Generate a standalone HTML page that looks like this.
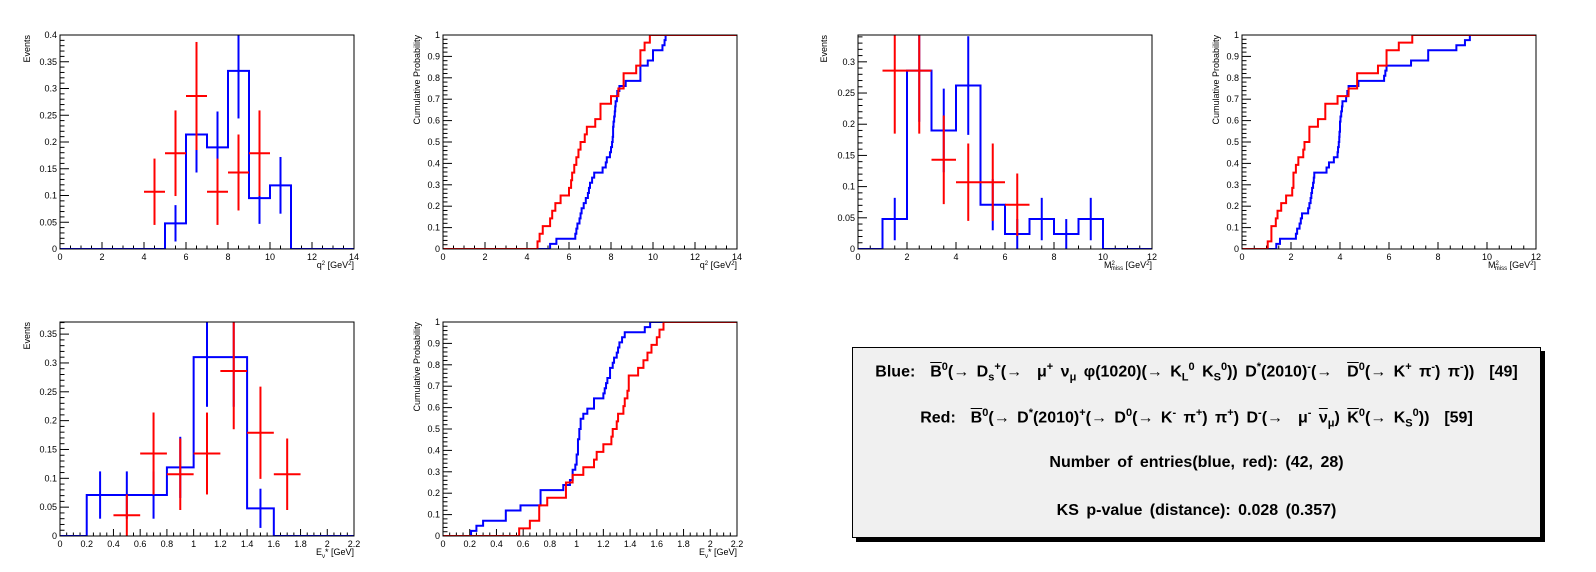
<!DOCTYPE html>
<html><head><meta charset="utf-8">
<style>
html,body{margin:0;padding:0;background:#fff;}
body{width:1596px;height:572px;overflow:hidden;position:relative;font-family:"Liberation Sans",sans-serif;}
#box{position:absolute;left:852px;top:347px;width:687px;height:189px;background:#f0f0f0;border:1px solid #000;box-shadow:4px 4px 0 #000;}
.ln{position:absolute;left:0;width:100%;text-align:center;font-weight:bold;font-size:16px;word-spacing:3px;white-space:nowrap;color:#000;}
.ob{text-decoration:overline;}
sup,sub{font-size:11px;}
</style></head><body>
<svg id="chart" width="1596" height="572" style="position:absolute;left:0;top:0"></svg>
<div id="box">
 <div class="ln" style="top:13px">Blue:&nbsp; <span class="ob">B</span><sup>0</sup>(→ D<sub>s</sub><sup>+</sup>(→ &nbsp;μ<sup>+</sup> ν<sub>μ</sub> φ(1020)(→ K<sub>L</sub><sup>0</sup> K<sub>S</sub><sup>0</sup>)) D<sup>*</sup>(2010)<sup>-</sup>(→ &nbsp;<span class="ob">D</span><sup>0</sup>(→ K<sup>+</sup> π<sup>-</sup>) π<sup>-</sup>)) &nbsp;[49]</div>
 <div class="ln" style="top:59px">Red:&nbsp; <span class="ob">B</span><sup>0</sup>(→ D<sup>*</sup>(2010)<sup>+</sup>(→ D<sup>0</sup>(→ K<sup>-</sup> π<sup>+</sup>) π<sup>+</sup>) D<sup>-</sup>(→ &nbsp;μ<sup>-</sup> <span class="ob">ν</span><sub>μ</sub>) <span class="ob">K</span><sup>0</sup>(→ K<sub>S</sub><sup>0</sup>)) &nbsp;[59]</div>
 <div class="ln" style="top:106px">Number of entries(blue, red): (42, 28)</div>
 <div class="ln" style="top:154px">KS p-value (distance): 0.028 (0.357)</div>
</div>
<script>
const q2Blue=[0,0,0,0,0,0.048,0.214,0.190,0.333,0.095,0.119,0,0,0];
const q2BlueErr=[0,0,0,0,0,0.034,0.071,0.067,0.089,0.048,0.053,0,0,0];
const q2Red=[0,0,0,0,0.107,0.179,0.286,0.107,0.143,0.179,0,0,0,0];
const q2RedErr=[0,0,0,0,0.062,0.080,0.101,0.062,0.071,0.080,0,0,0,0];
const m2Blue=[0,0.048,0.286,0.190,0.262,0.071,0.024,0.048,0.024,0.048,0,0];
const m2BlueErr=[0,0.034,0.082,0.067,0.079,0.041,0.024,0.034,0.024,0.034,0,0];
const m2Red=[0,0.286,0.286,0.143,0.107,0.107,0.071,0,0,0,0,0];
const m2RedErr=[0,0.101,0.101,0.071,0.062,0.062,0.050,0,0,0,0,0];
const eBlue=[0,0.071,0.071,0.071,0.119,0.310,0.310,0.048,0,0,0];
const eBlueErr=[0,0.041,0.041,0.041,0.053,0.086,0.086,0.034,0,0,0];
const eRed=[0,0,0.036,0.143,0.107,0.143,0.286,0.179,0.107,0,0];
const eRedErr=[0,0,0.036,0.071,0.062,0.071,0.101,0.080,0.062,0,0];
const q2BlueSample=[5.1,5.4,6.3,6.35,6.4,6.5,6.55,6.6,6.7,6.8,6.9,6.95,7.0,7.1,7.2,7.6,7.75,7.8,7.95,8.0,8.05,8.08,8.1,8.1,8.12,8.15,8.18,8.2,8.22,8.28,8.3,8.4,8.7,9.4,9.4,9.4,9.75,10.0,10.0,10.45,10.55,10.6];
const q2RedSample=[4.5,4.6,4.75,5.1,5.2,5.35,5.6,6.0,6.1,6.15,6.25,6.35,6.45,6.55,6.75,6.85,7.25,7.5,7.5,8.0,8.35,8.6,8.6,9.2,9.4,9.4,9.6,9.85];
const m2BlueSample=[1.4,1.55,2.2,2.25,2.35,2.4,2.45,2.7,2.75,2.8,2.83,2.86,2.9,2.93,2.95,3.45,3.55,3.75,3.9,3.92,3.95,3.97,3.98,4.0,4.0,4.02,4.05,4.08,4.1,4.25,4.3,4.35,4.75,5.8,5.85,5.9,6.9,7.6,7.6,8.75,9.1,9.3];
const m2RedSample=[1.05,1.2,1.2,1.38,1.45,1.6,1.8,2.05,2.1,2.1,2.2,2.3,2.5,2.55,2.75,2.75,3.1,3.4,3.4,3.9,4.35,4.7,4.7,5.55,5.9,5.9,6.4,6.95];
const eBlueSample=[0.21,0.25,0.3,0.47,0.47,0.58,0.73,0.73,0.73,0.9,0.95,0.97,0.97,0.99,1.0,1.0,1.01,1.01,1.01,1.02,1.02,1.03,1.03,1.05,1.08,1.13,1.13,1.2,1.21,1.22,1.23,1.25,1.25,1.27,1.28,1.3,1.31,1.32,1.34,1.36,1.51,1.55];
const eRedSample=[0.57,0.65,0.72,0.72,0.78,0.92,0.92,0.97,1.05,1.13,1.15,1.2,1.26,1.27,1.3,1.31,1.35,1.36,1.38,1.39,1.39,1.46,1.5,1.53,1.56,1.6,1.62,1.65];

const NS='http://www.w3.org/2000/svg';
const svg=document.getElementById('chart');
function mk(tag,attrs,parent){const e=document.createElementNS(NS,tag);for(const k in attrs)e.setAttribute(k,attrs[k]);(parent||svg).appendChild(e);return e;}
let clipId=0;
function fmt(v){return (+v.toFixed(3)).toString();}

function panel(p){
  const g=mk('g',{});
  
  
  const sx=v=>p.x0+(v-p.xmin)/(p.xmax-p.xmin)*(p.x1-p.x0);
  const sy=v=>p.y1-v/p.ymax*(p.y1-p.y0);
  const cid='c'+(clipId++);
  const cp=mk('clipPath',{id:cid},g);mk('rect',{x:p.x0,y:p.y0,width:p.x1-p.x0,height:p.y1-p.y0},cp);
  const tg=mk('g',{stroke:'#000','stroke-width':1},g);
  const nMx=Math.round((p.xmax-p.xmin)/p.xstep);
  for(let i=0;i<=nMx;i++){
    const v=p.xmin+i*p.xstep,x=sx(v);
    mk('line',{x1:x,y1:p.y1,x2:x,y2:p.y1-7},tg);
    if(i<nMx)for(let j=1;j<4;j++){const xm=sx(v+j*p.xstep/4);mk('line',{x1:xm,y1:p.y1,x2:xm,y2:p.y1-3.5},tg);}
    const t=mk('text',{x:x,y:p.y1+11,'font-size':9,'text-anchor':'middle',fill:'#000'},g);
    
    
    t.textContent=fmt(v);
  }
  const nMy=Math.floor(p.ymax/p.ystep+1e-6);
  for(let i=0;i<=nMy;i++){
    const v=i*p.ystep,y=sy(v);
    mk('line',{x1:p.x0,y1:y,x2:p.x0+9,y2:y},tg);
    for(let j=1;j<5;j++){const vm=v+j*p.ystep/5;if(vm<=p.ymax)mk('line',{x1:p.x0,y1:sy(vm),x2:p.x0+4.5,y2:sy(vm)},tg);}
    const t=mk('text',{x:p.x0-3,y:y+3,'font-size':9,'text-anchor':'end',fill:'#000'},g);
    
    
    t.textContent=fmt(v);
  }
  const yt=mk('text',{x:0,y:0,'font-size':9,'text-anchor':'end',fill:'#000',transform:`translate(${p.x0-p.ytOff},${p.y0}) rotate(-90)`},g);
  
  
  yt.textContent=p.ytitle;
  const xt=mk('text',{x:p.x1,y:p.y1+19,'font-size':9,'text-anchor':'end',fill:'#000'},g);
  
  
  xt.innerHTML=p.xtitle;
  const dg=mk('g',{'clip-path':`url(#${cid})`},g);
  if(p.hist){
    const bw=p.bw,nb=p.blue.length;
    let d=`M${sx(p.xmin)},${sy(0)}`;
    for(let i=0;i<nb;i++){const xa=sx(p.xmin+i*bw),xb=sx(p.xmin+(i+1)*bw),y=sy(p.blue[i]);d+=`L${xa},${y}L${xb},${y}`;}
    d+=`L${sx(p.xmax)},${sy(0)}`;
    const h=mk('path',{d:d,fill:'none',stroke:'#0000ff','stroke-width':2},dg);
    
    
    for(let i=0;i<nb;i++){if(p.blue[i]<=0)continue;const xc=sx(p.xmin+(i+.5)*bw);
      const e=mk('line',{x1:xc,x2:xc,y1:sy(p.blue[i]-p.blueErr[i]),y2:sy(p.blue[i]+p.blueErr[i]),stroke:'#0000ff','stroke-width':2},dg);
      
      }
    for(let i=0;i<p.red.length;i++){if(p.red[i]<=0)continue;const xc=sx(p.xmin+(i+.5)*bw),y=sy(p.red[i]);
      const e=mk('line',{x1:xc,x2:xc,y1:sy(p.red[i]-p.redErr[i]),y2:sy(p.red[i]+p.redErr[i]),stroke:'#ff0000','stroke-width':2},dg);
      
      
      const hz=mk('line',{x1:sx(p.xmin+i*bw),x2:sx(p.xmin+(i+1)*bw),y1:y,y2:y,stroke:'#ff0000','stroke-width':2},dg);
      
      }
  } else {
    [['blue',p.blueS,'#0000ff'],['red',p.redS,'#ff0000']].forEach(([nm,s,c])=>{
      const a=s.slice().sort((u,v)=>u-v),n=a.length;
      let d=`M${sx(p.xmin)},${sy(0)}`;
      a.forEach((v,i)=>{d+=`L${sx(v)},${sy(i/n)}L${sx(v)},${sy((i+1)/n)}`;});
      d+=`L${sx(p.xmax)},${sy(1)}`;
      const l=mk('path',{d:d,fill:'none',stroke:c,'stroke-width':2},dg);
      
      
    });
  }
  const fr=mk('rect',{x:p.x0,y:p.y0,width:p.x1-p.x0,height:p.y1-p.y0,fill:'none',stroke:'#000','stroke-width':1},g);
  
  
}
const q2t='q<tspan dy="-3" font-size="6">2</tspan><tspan dy="3"> [GeV</tspan><tspan dy="-3" font-size="6">2</tspan><tspan dy="3">]</tspan>';
const m2t='M<tspan dy="-3" font-size="6">2</tspan><tspan dy="5" dx="-4" font-size="6">miss</tspan><tspan dy="-2"> [GeV</tspan><tspan dy="-3" font-size="6">2</tspan><tspan dy="3">]</tspan>';
const et='E<tspan dy="3" font-size="6">ν</tspan><tspan dy="-3">* [GeV]</tspan>';
panel({name:'q2-histogram-panel',hist:true,x0:60,x1:354,y0:35,y1:249,xmin:0,xmax:14,xstep:2,ymax:0.4,ystep:0.05,bw:1,blue:q2Blue,blueErr:q2BlueErr,red:q2Red,redErr:q2RedErr,ytitle:'Events',xtitle:q2t,ytOff:30});
panel({name:'q2-cdf-panel',hist:false,x0:443,x1:737,y0:35,y1:249,xmin:0,xmax:14,xstep:2,ymax:1,ystep:0.1,blueS:q2BlueSample,redS:q2RedSample,ytitle:'Cumulative Probability',xtitle:q2t,ytOff:23});
panel({name:'m2miss-histogram-panel',hist:true,x0:858,x1:1152,y0:35,y1:249,xmin:0,xmax:12,xstep:2,ymax:0.343,ystep:0.05,bw:1,blue:m2Blue,blueErr:m2BlueErr,red:m2Red,redErr:m2RedErr,ytitle:'Events',xtitle:m2t,ytOff:31});
panel({name:'m2miss-cdf-panel',hist:false,x0:1242,x1:1536,y0:35,y1:249,xmin:0,xmax:12,xstep:2,ymax:1,ystep:0.1,blueS:m2BlueSample,redS:m2RedSample,ytitle:'Cumulative Probability',xtitle:m2t,ytOff:23});
panel({name:'energy-histogram-panel',hist:true,x0:60,x1:354,y0:322,y1:536,xmin:0,xmax:2.2,xstep:0.2,ymax:0.371,ystep:0.05,bw:0.2,blue:eBlue,blueErr:eBlueErr,red:eRed,redErr:eRedErr,ytitle:'Events',xtitle:et,ytOff:30});
panel({name:'energy-cdf-panel',hist:false,x0:443,x1:737,y0:322,y1:536,xmin:0,xmax:2.2,xstep:0.2,ymax:1,ystep:0.1,blueS:eBlueSample,redS:eRedSample,ytitle:'Cumulative Probability',xtitle:et,ytOff:23});
</script>
</body></html>
